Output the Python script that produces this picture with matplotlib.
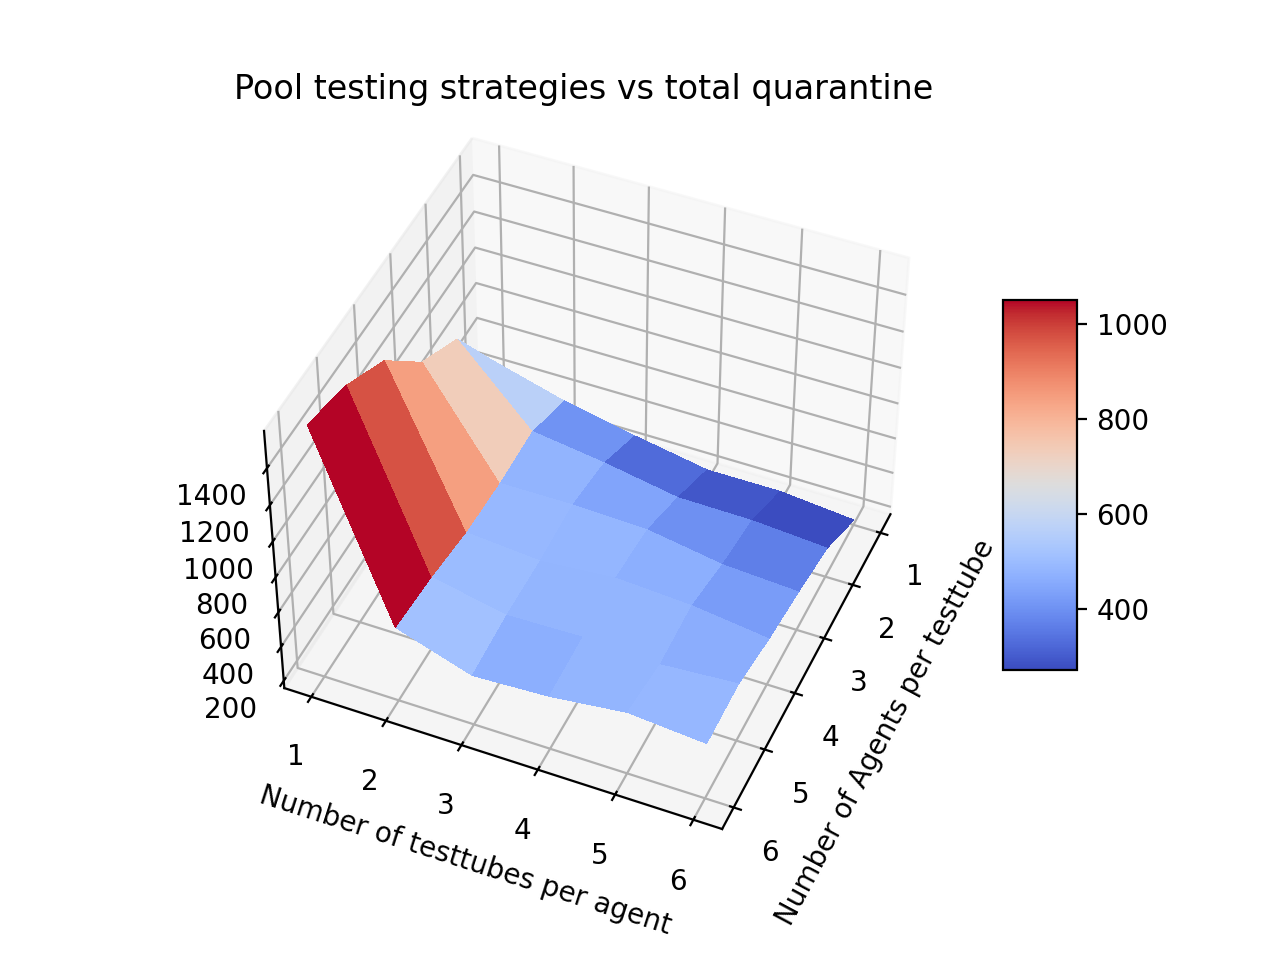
import numpy as np
import matplotlib
matplotlib.use('Agg')
import matplotlib.pyplot as plt
from matplotlib import cm

agents = [1, 2, 3, 4, 5, 6]
testtubes = [1, 2, 3, 4, 5, 6]

# one row per agents value, columns are testtubes 1..6
q_agents1 = [500, 385, 300, 225, 225, 185]
q_agents2 = [900, 495, 435, 360, 355, 325]
q_agents3 = [1050, 488, 490, 475, 405, 380]
q_agents4 = [1340, 505, 470, 505, 480, 425]
q_agents5 = [1490, 555, 470, 480, 460, 490]
q_agents6 = [1569, 585, 445, 465, 515, 480]

X, Y = np.meshgrid(agents, testtubes, indexing='ij')
Z = np.array([q_agents1, q_agents2, q_agents3, q_agents4, q_agents5, q_agents6])

fig = plt.figure(figsize=(6.4, 4.8), dpi=200)
ax = fig.add_subplot(projection='3d')
surf = ax.plot_surface(X, Y, Z, cmap=cm.coolwarm, linewidth=0, antialiased=False)
ax.view_init(elev=44, azim=23.2)
ax.set_xlabel('Number of Agents per testtube')
ax.set_ylabel('Number of testtubes per agent')
ax.set_title('Pool testing strategies vs total quarantine')
fig.colorbar(surf, shrink=0.5, aspect=5)
plt.savefig('out.png')
